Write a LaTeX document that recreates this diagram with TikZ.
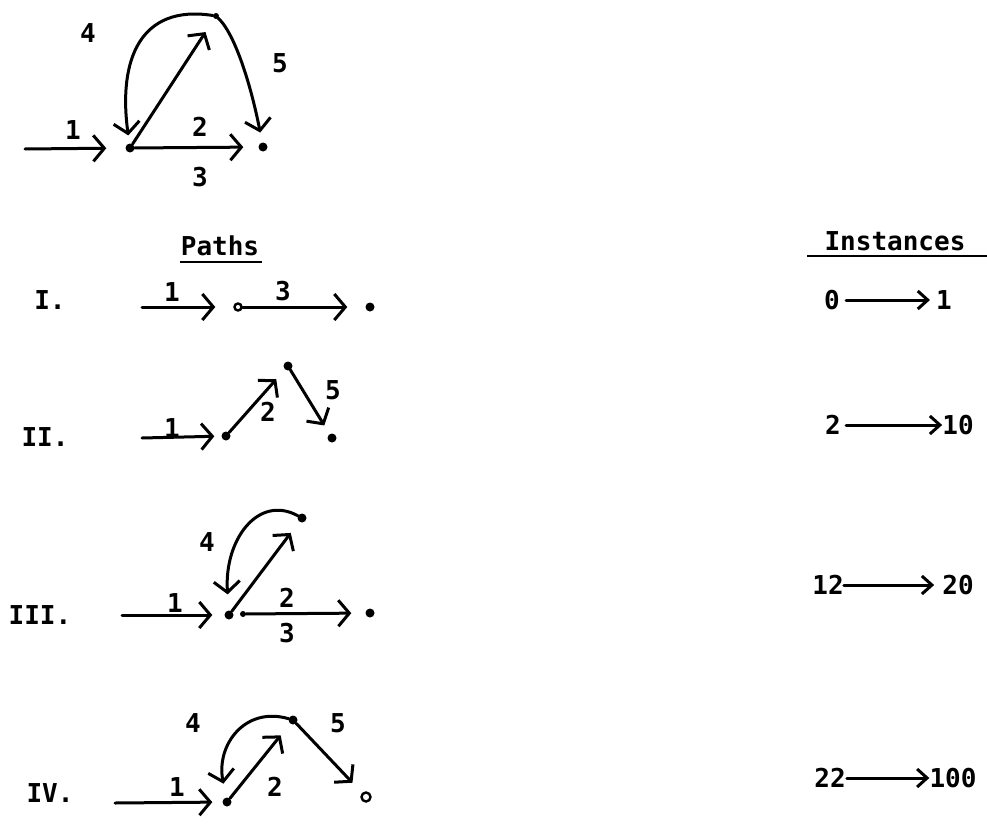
\documentclass[tikz,border=0pt]{standalone}
\usepackage{fontspec}
\setmonofont{DejaVu Sans Mono}
\usetikzlibrary{arrows.meta}
\begin{document}
\begin{tikzpicture}[x=1pt,y=-1pt,
  lbl/.style={font=\ttfamily\bfseries\fontsize{26}{26}\selectfont, inner sep=0pt},
  big/.style={font=\ttfamily\bfseries\fontsize{26}{26}\selectfont, inner sep=0pt},
  dot/.style={circle, fill=black, inner sep=0pt, minimum size=9pt},
  sdot/.style={circle, fill=black, inner sep=0pt, minimum size=6pt},
  odot/.style={circle, draw=black, line width=2.4pt, fill=white, inner sep=0pt, minimum size=9pt},
  edge/.style={line width=3pt, line cap=round, -{Straight Barb[length=11pt,width=26pt,line width=3pt]}},
  iedge/.style={line width=3pt, line cap=round, -{Straight Barb[length=10pt,width=18pt,line width=3pt]}}
]
\useasboundingbox (0,0) rectangle (987,824);

% ---------- top diagram ----------
\coordinate (s0) at (25,149);
\node[dot] (A) at (130,148) {};
\node[dot] (B) at (263,147) {};
\node[sdot] (C) at (216,16) {};
\draw[edge, shorten >=19pt] (s0) -- (A);
\draw[edge, shorten >=15pt] (A) -- (B);
\draw[edge, shorten >=16pt] (A) -- (C);
\draw[edge, shorten >=8pt] (C) .. controls (140,4) and (118,60) .. (A);
\draw[edge, shorten >=10pt] (C) .. controls (236,35) and (252,90) .. (B);
\node[lbl] (t1) at (73,130) {1};
\node[lbl] (t2) at (200,127) {2};
\node[lbl] (t3) at (200,177) {3};
\node[lbl] (t4) at (88,33) {4};
\node[lbl] (t5) at (280,63) {5};

% ---------- headings ----------
\node[big] (paths) at (220,246) {Paths};
\draw[line width=2.6pt] (180,262) -- (262,262);
\node[big] (inst) at (895,241) {Instances};
\draw[line width=2.6pt] (807,256) -- (987,256);

% ---------- row I ----------
\node[big] (r1) at (50,300) {I.};
\coordinate (s1) at (142,307);
\node[odot, minimum size=7pt] (N1a) at (238,307) {};
\node[dot] (N1b) at (370,307) {};
\draw[edge, shorten >=18pt] (s1) -- (N1a);
\draw[edge, shorten >=18pt] (N1a) -- (N1b);
\node[lbl] (l11) at (172,292) {1};
\node[lbl] (l13) at (283,291) {3};

% ---------- row II ----------
\node[big] (r2) at (45,437) {II.};
\coordinate (s2) at (142,438);
\node[dot] (N2a) at (226,436) {};
\node[dot] (N2b) at (288,366) {};
\node[dot] (N2c) at (332,438) {};
\draw[edge, shorten >=7pt] (s2) -- (N2a);
\draw[edge, shorten >=13pt] (N2a) -- (N2b);
\draw[edge, shorten >=10pt] (N2b) -- (N2c);
\node[lbl] (l21) at (172,428) {1};
\node[lbl] (l22) at (268,412) {2};
\node[lbl] (l25) at (333,390) {5};

% ---------- row III ----------
\node[big] (r3) at (40,615) {III.};
\coordinate (s3) at (122,615);
\node[dot] (N3a) at (229,615) {};
\node[sdot] (N3x) at (243,614) {};
\node[dot] (N3b) at (370,613) {};
\node[dot] (N3c) at (302,518) {};
\draw[edge, shorten >=12pt] (s3) -- (N3a);
\draw[edge, shorten >=14pt] (N3x) -- (N3b);
\draw[edge, shorten >=14pt] (N3a) -- (N3c);
\draw[edge, shorten >=16pt] (N3c) .. controls (258,494) and (224,540) .. (N3a);
\node[lbl] (l31) at (175,603) {1};
\node[lbl] (l32) at (287,598) {2};
\node[lbl] (l33) at (287,633) {3};
\node[lbl] (l34) at (207,542) {4};

% ---------- row IV ----------
\node[big] (r4) at (50,793) {IV.};
\coordinate (s4) at (115,803);
\node[dot] (N4a) at (227,802) {};
\node[dot] (N4c) at (293,720) {};
\node[odot] (N4d) at (366,797) {};
\draw[edge, shorten >=10pt] (s4) -- (N4a);
\draw[edge, shorten >=15pt] (N4a) -- (N4c);
\draw[edge, shorten >=14pt] (N4c) .. controls (245,706) and (216,745) .. (N4a);
\draw[edge, shorten >=14pt] (N4c) -- (N4d);
\node[lbl] (l41) at (177,787) {1};
\node[lbl] (l42) at (275,787) {2};
\node[lbl] (l44) at (193,723) {4};
\node[lbl] (l45) at (338,723) {5};

% ---------- instances ----------
\node[big] (i0) at (832,300) {0};
\node[big] (i1) at (944,300) {1};
\draw[iedge, shorten <=6pt, shorten >=6pt] (i0) -- (i1);
\node[big] (i2) at (833,425) {2};
\node[big] (i10) at (958,425) {10};
\draw[iedge, shorten <=5pt, shorten >=0pt] (i2) -- (i10);
\node[big] (i12) at (828,585) {12};
\node[big] (i20) at (958,585) {20};
\draw[iedge, shorten <=0pt, shorten >=8pt] (i12) -- (i20);
\node[big] (i22) at (830,778) {22};
\node[big] (i100) at (953,778) {100};
\draw[iedge, shorten <=1pt, shorten >=0pt] (i22) -- (i100);
\end{tikzpicture}
\end{document}
